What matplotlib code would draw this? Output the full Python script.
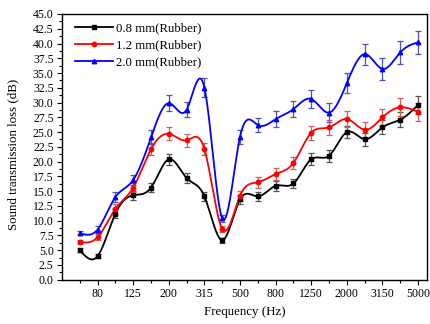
import numpy as np
import matplotlib
matplotlib.use("Agg")
import matplotlib.pyplot as plt
from matplotlib.ticker import MultipleLocator, FixedLocator

freqs = ["63", "80", "100", "125", "160", "200", "250", "315", "400", "500",
         "630", "800", "1000", "1250", "1600", "2000", "2500", "3150", "4000", "5000"]

stl_08 = [5.0, 4.0, 11.2, 14.3, 15.6, 20.4, 17.2, 14.1, 6.7, 13.6,
          14.1, 15.9, 16.3, 20.4, 21.0, 25.0, 23.8, 25.8, 27.1, 29.6]
err_08 = [0.3, 0.3, 0.7, 0.8, 0.7, 0.9, 0.8, 0.7, 0.4, 0.8,
          0.7, 0.8, 0.8, 1.0, 1.0, 1.0, 1.1, 1.2, 1.3, 1.5]

stl_12 = [6.4, 7.2, 12.0, 15.6, 22.1, 24.7, 23.6, 22.1, 8.6, 14.2,
          16.5, 17.9, 19.8, 24.9, 25.8, 27.2, 25.4, 27.5, 29.2, 28.4]
err_12 = [0.3, 0.5, 0.8, 0.8, 1.0, 1.1, 1.1, 1.0, 0.5, 0.8,
          0.9, 1.0, 1.0, 1.2, 1.3, 1.3, 1.3, 1.4, 1.5, 1.6]

stl_20 = [7.9, 8.5, 14.0, 16.9, 24.1, 29.9, 28.8, 32.5, 10.4, 24.2,
          26.2, 27.2, 28.9, 30.6, 28.3, 33.3, 38.2, 35.7, 38.5, 40.2]
err_20 = [0.4, 0.6, 0.8, 0.9, 1.2, 1.4, 1.3, 1.6, 0.6, 1.2,
          1.2, 1.3, 1.4, 1.5, 1.6, 1.7, 1.8, 1.8, 2.0, 2.0]

labels = ["0.8 mm(Rubber)", "1.2 mm(Rubber)", "2.0 mm(Rubber)"]
colors = ["#000000", "#ff0000", "#0000ff"]
ecolors = ["#555555", "#d06060", "#5050c0"]
markers = ["s", "o", "^"]


def natural_spline(x, y, xs):
    x = np.asarray(x, float); y = np.asarray(y, float)
    n = len(x)
    h = np.diff(x)
    A = np.zeros((n, n)); b = np.zeros(n)
    A[0, 0] = 1; A[-1, -1] = 1
    for i in range(1, n - 1):
        A[i, i - 1] = h[i - 1]
        A[i, i] = 2 * (h[i - 1] + h[i])
        A[i, i + 1] = h[i]
        b[i] = 3 * ((y[i + 1] - y[i]) / h[i] - (y[i] - y[i - 1]) / h[i - 1])
    c = np.linalg.solve(A, b)
    bb = (y[1:] - y[:-1]) / h - h * (2 * c[:-1] + c[1:]) / 3
    d = (c[1:] - c[:-1]) / (3 * h)
    idx = np.clip(np.searchsorted(x, xs) - 1, 0, n - 2)
    dx = xs - x[idx]
    return y[idx] + bb[idx] * dx + c[idx] * dx ** 2 + d[idx] * dx ** 3


plt.rcParams['font.family'] = ['Liberation Serif', 'DejaVu Serif']
fig = plt.figure(figsize=(4.30, 3.24), dpi=100)
ax = fig.add_axes([62 / 430, 1 - 279.7 / 324, (427 - 62) / 430, (279.7 - 14) / 324])

xi = np.arange(len(freqs))
xs = np.linspace(0, len(freqs) - 1, 800)
series = [(stl_08, err_08), (stl_12, err_12), (stl_20, err_20)]
for (vals, errs), lab, col, ecol, mk in zip(series, labels, colors, ecolors, markers):
    ax.errorbar(xi, vals, yerr=errs, fmt="none", ecolor=ecol, elinewidth=0.9,
                capsize=2.5, capthick=0.9, zorder=2)
    ax.plot(xs, natural_spline(xi, vals, xs), color=col, lw=1.3, zorder=3)
    ax.plot(xi, vals, linestyle="none", marker=mk, color=col, ms=3.2, zorder=4)
    ax.plot([], [], color=col, lw=1.3, marker=mk, ms=3.2, label=lab)

ax.set_xlim(-1, 19.5)
ax.set_ylim(0, 45)
ax.xaxis.set_major_locator(FixedLocator(xi[1::2]))
ax.set_xticklabels(freqs[1::2])
ax.xaxis.set_minor_locator(FixedLocator(xi[0::2]))
ax.yaxis.set_major_locator(MultipleLocator(2.5))
ax.yaxis.set_minor_locator(MultipleLocator(1.25))
ax.yaxis.set_major_formatter(matplotlib.ticker.FormatStrFormatter("%.1f"))
ax.tick_params(which="both", direction="out", top=False, right=False, labelsize=8.5)
ax.tick_params(which="major", length=3.5, width=0.8, pad=2.5)
ax.tick_params(which="minor", length=2, width=0.8)
for s in ax.spines.values():
    s.set_linewidth(1.0)

ax.set_xlabel("Frequency (Hz)", fontsize=9.3, labelpad=4)
ax.set_ylabel("Sound transmission loss (dB)", fontsize=9.3)
ax.yaxis.set_label_coords(-0.118, 0.47)

leg = ax.legend(loc="upper left", frameon=False, fontsize=9.2, handlelength=3.0,
                handletextpad=0.2, labelspacing=0.4, borderaxespad=0.0,
                bbox_to_anchor=(0.022, 0.988))

fig.savefig("out.png", dpi=100)
